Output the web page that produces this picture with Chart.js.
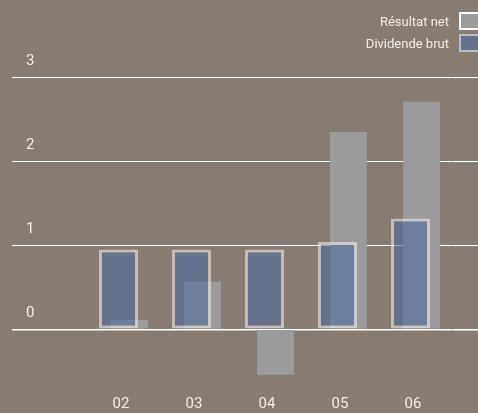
<!DOCTYPE html>
<html>
<head>
<meta charset="utf-8">
<script src="https://cdn.jsdelivr.net/npm/chart.js@4.4.1/dist/chart.umd.min.js"></script>
<style>
  html, body { margin: 0; padding: 0; background: #877b72; }
  #wrap { position: relative; width: 478px; height: 413px; overflow: hidden; }
  #legende { position: absolute; right: -2px; top: 12px; font-family: Roboto, sans-serif; font-size: 13px; color: #f2eee9; }
  .item { display: flex; justify-content: flex-end; align-items: center; height: 18px; margin-bottom: 4px; }
  .item span { margin-right: 10px; }
  .boite { width: 21px; height: 18px; box-sizing: border-box; border-width: 2px; border-style: solid; }
</style>
</head>
<body>
<div id="wrap">
  <canvas id="graphique"></canvas>
  <div id="legende">
    <div class="item"><span>Résultat net</span><div class="boite" style="background:#9b9b9d;border-color:#ffffff"></div></div>
    <div class="item"><span>Dividende brut</span><div class="boite" style="background:#66728c;border-color:rgba(240,235,230,0.6)"></div></div>
  </div>
</div>
<script>
// Données
const annees = ["02", "03", "04", "05", "06"];
const resultatNet = [0.11, 0.57, -0.54, 2.35, 2.71];
const dividendeBrut = [0.95, 0.95, 0.95, 1.04, 1.32];
const graduations = [0, 1, 2, 3];

const couleurTexte = "#f2eee9";
Chart.defaults.font.family = "Roboto, sans-serif";
Chart.defaults.color = couleurTexte;

const ctx = document.getElementById("graphique").getContext("2d");

new Chart(ctx, {
    type: "bar",
    data: {
        labels: annees,
        datasets: [
            {
                label: "Résultat net",
                data: resultatNet,
                backgroundColor: "#9b9b9d",
                borderWidth: 0,
                order: 2,
                categoryPercentage: 0.3014,
                barPercentage: 3.36,
            },
            {
                label: "Dividende brut",
                data: dividendeBrut,
                backgroundColor: "rgba(80,108,158,0.6)",
                borderColor: "rgba(240,235,230,0.6)",
                borderWidth: 3,
                borderSkipped: false,
                order: 1,
                categoryPercentage: 0.3014,
                barPercentage: 3.55,
            },
        ],
    },
    options: {
        responsive: true,
        maintainAspectRatio: false,
        animation: false,
        layout: { padding: { top: 77.3, left: 26, right: 0, bottom: 0 } },
        plugins: {
            legend: { display: false },
            tooltip: { enabled: false },
        },
        scales: {
            x: {
                grid: { display: false, drawTicks: false },
                border: { display: false },
                ticks: { font: { size: 15 }, padding: 16, labelOffset: -3 },
                afterFit: (scale) => { scale.height = 33.3; },
            },
            y: {
                min: -0.6,
                max: 3,
                afterBuildTicks: (scale) => { scale.ticks = graduations.map((v) => ({ value: v })); },
                grid: {
                    color: "#ffffff",
                    lineWidth: (c) => (c.tick && c.tick.value === 0 ? 1.6 : 1.1),
                    drawTicks: true,
                    tickLength: 75.5,
                },
                border: { display: false },
                ticks: { font: { size: 15 }, crossAlign: "far", labelOffset: -16, padding: 0 },
                afterFit: (scale) => { scale.width = 61.5; },
            },
            y2: {
                position: "right",
                min: -0.6,
                max: 3,
                afterBuildTicks: (scale) => { scale.ticks = graduations.map((v) => ({ value: v })); },
                grid: {
                    color: "#ffffff",
                    lineWidth: (c) => (c.tick && c.tick.value === 0 ? 1.6 : 1.1),
                    drawOnChartArea: false,
                    drawTicks: true,
                    tickLength: 25.5,
                },
                border: { display: false },
                ticks: { display: false },
                afterFit: (scale) => { scale.width = 25.5; },
            },
        },
    },
});
</script>
</body>
</html>
